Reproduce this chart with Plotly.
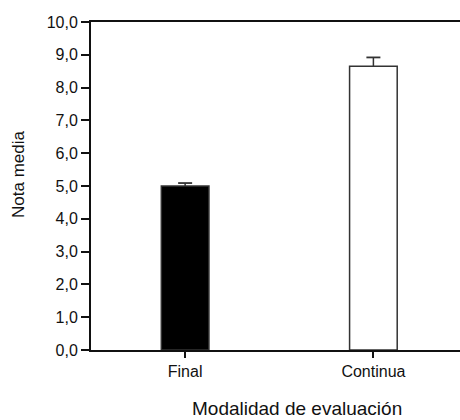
import plotly.graph_objects as go

categories = ["Final", "Continua"]
means = [5.0, 8.65]
errors = [0.09, 0.27]
fill_colors = ["#000000", "#ffffff"]

L, R, T, B = 91, 0, 22, 70
W, H = 460, 420
pw, ph = W - L - R, H - T - B

fig = go.Figure()
fig.add_trace(go.Bar(
    x=categories, y=means,
    width=0.253,
    marker=dict(color=fill_colors, line=dict(color="#333333", width=1.5)),
    showlegend=False,
))

# upper error bars (T-shaped, no lower cap)
ex, ey = [], []
for c, m, e in zip(categories, means, errors):
    ex += [c, c, None]
    ey += [m, m + e, None]
fig.add_trace(go.Scatter(
    x=ex, y=ey, mode="lines",
    line=dict(color="#333333", width=1.5), showlegend=False, hoverinfo="skip",
))
fig.add_trace(go.Scatter(
    x=categories, y=[m + e for m, e in zip(means, errors)], mode="markers",
    marker=dict(symbol="line-ew-open", size=10, color="#333333",
                line=dict(color="#333333", width=1.8)),
    showlegend=False, hoverinfo="skip",
))

tickfont = dict(family="Liberation Sans, Arial, sans-serif", size=16, color="#111111")

fig.update_layout(
    width=W, height=H,
    margin=dict(l=L, r=R, t=T, b=B, pad=0),
    paper_bgcolor="white", plot_bgcolor="white",
    separators=",.",
    xaxis=dict(
        type="category", range=[-0.5, 1.46],
        showline=True, linecolor="#111111", linewidth=2, mirror=True,
        ticks="outside", ticklen=6, tickwidth=2, tickcolor="#111111",
        showgrid=False, zeroline=False, tickfont=tickfont,
    ),
    yaxis=dict(
        range=[0, 10], dtick=1, tickformat=".1f",
        showline=True, linecolor="#111111", linewidth=2, mirror=False,
        ticks="outside", ticklen=8, tickwidth=2, tickcolor="#111111",
        showgrid=False, zeroline=False, tickfont=tickfont,
    ),
    annotations=[
        dict(text="Modalidad de evaluación", xref="paper", yref="paper",
             x=(296.7 - L) / pw, y=-(408 - (H - B)) / ph,
             xanchor="center", yanchor="middle", showarrow=False,
             font=dict(family="Liberation Sans, Arial, sans-serif", size=19, color="#111111")),
        dict(text="Nota media", xref="paper", yref="paper",
             x=(18 - L) / pw, y=((H - B) - 175) / ph, textangle=-90,
             xanchor="center", yanchor="middle", showarrow=False,
             font=dict(family="Liberation Sans, Arial, sans-serif", size=17, color="#111111")),
    ],
)

fig.write_html("out.html")
